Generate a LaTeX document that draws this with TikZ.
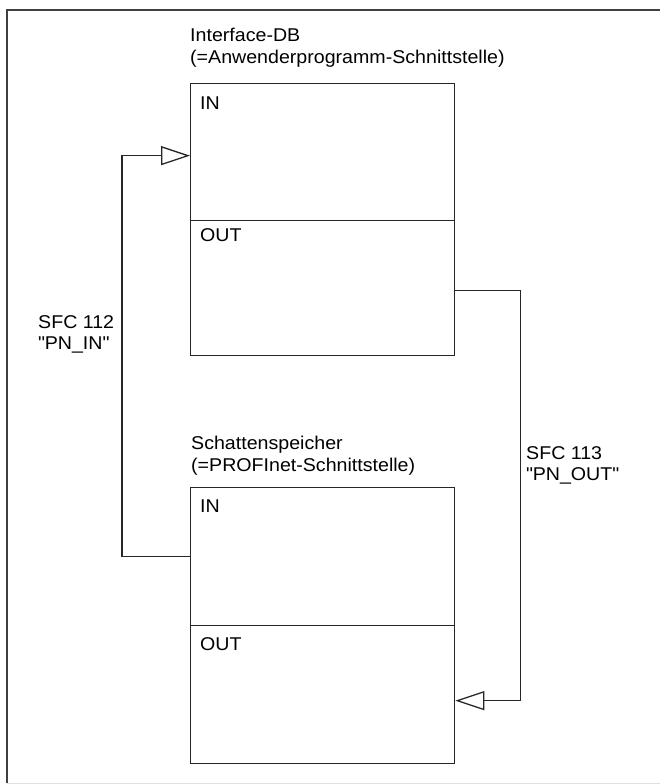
\documentclass[tikz,border=0pt]{standalone}
\usepackage{fontspec}
\setmainfont[FakeStretch=1.06]{Liberation Sans}
\usetikzlibrary{arrows.meta,positioning}
\tikzset{
  part/.style={draw=black!85,line width=1.3pt,minimum width=264pt,inner sep=0pt,anchor=north west},
  lbl/.style={font=\fontsize{18.5}{21.5}\selectfont,inner sep=0pt,anchor=north west,align=left},
  conn/.style={draw=black!85,line width=1.3pt,-{Triangle[open,length=29pt,width=19pt,line width=1.3pt]}},
}
\begin{document}
\begin{tikzpicture}[x=1pt,y=-1pt]
\useasboundingbox (0,0) rectangle (659,784);
% frame
\draw[line width=1.5pt,black!75] (665,10) -- (7,10) -- (7,783);
\draw[line width=1pt,black!12] (7,783) -- (665,783);
% Interface-DB
\node[lbl] (idbname) at (190,28) {Interface-DB\\(=Anwenderprogramm-Schnittstelle)};
\node[part,minimum height=137pt] (idbin) at (190,83) {};
\node[part,minimum height=135pt] (idbout) at (190,220) {};
\node[lbl] (idbintxt) at (200,97) {IN};
\node[lbl] (idbouttxt) at (200,228) {OUT};
% Schattenspeicher
\node[lbl] (ssname) at (191,436) {Schattenspeicher\\(=PROFInet-Schnittstelle)};
\node[part,minimum height=138pt] (ssin) at (190,487) {};
\node[part,minimum height=138pt] (ssout) at (190,625) {};
\node[lbl] (ssintxt) at (200,500) {IN};
\node[lbl] (ssouttxt) at (200,637) {OUT};
% SFC calls
\draw[conn] (ssin.west) -- ++(-68,0) |- ([yshift=-3.5pt]idbin.west);
\draw[conn] ([yshift=-2.5pt]idbout.east) -- ++(65,0) |- ([yshift=-6pt]ssout.east);
\node[lbl] (sfcin) at (38,315) {SFC 112\\\textquotedbl PN\_IN\textquotedbl};
\node[lbl] (sfcout) at (526,446) {SFC 113\\\textquotedbl PN\_OUT\textquotedbl};
\end{tikzpicture}
\end{document}
